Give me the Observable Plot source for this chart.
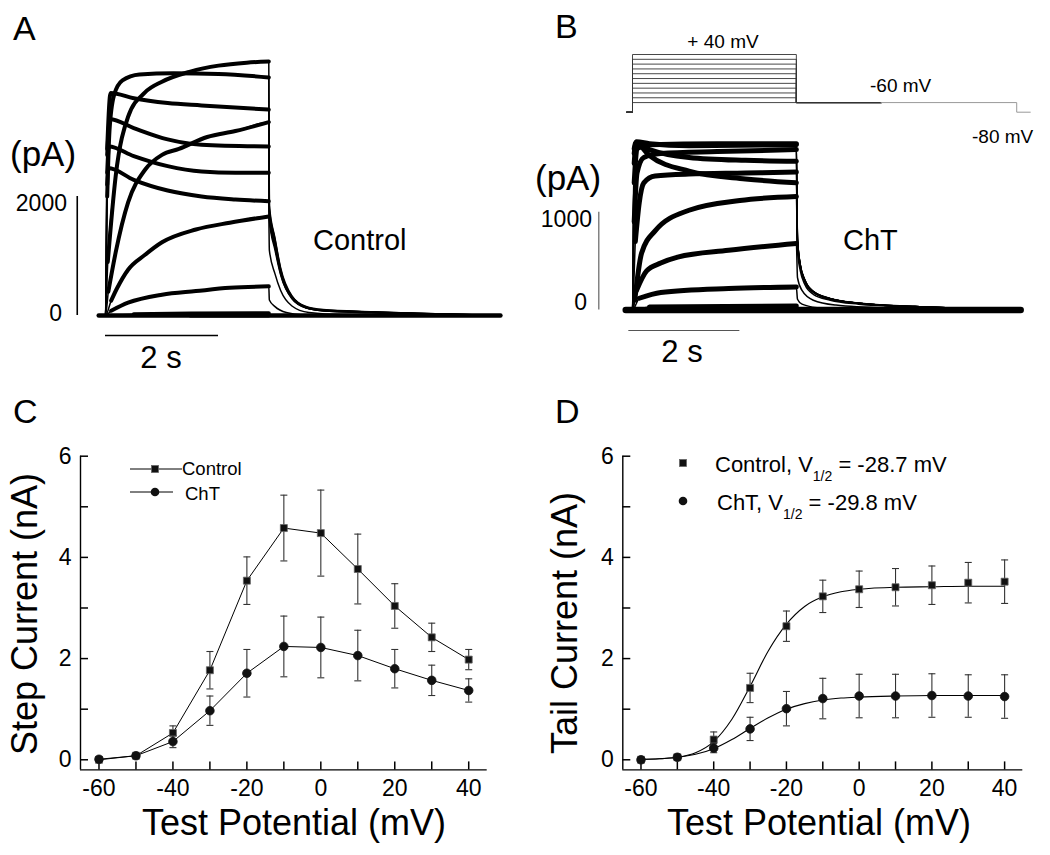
<!DOCTYPE html>
<html><head><meta charset="utf-8">
<script src="https://cdn.jsdelivr.net/npm/d3@7"></script>
<script src="https://cdn.jsdelivr.net/npm/@observablehq/plot@0.6"></script>
<style>
body{margin:0;background:#fff;}
#fig{position:relative;width:1050px;height:855px;overflow:hidden;background:#fff;}
.panel{position:absolute;}
#overlay{position:absolute;left:0;top:0;pointer-events:none;}
</style></head><body><div id="fig"></div>
<script>
const FONT = '"Liberation Sans", Arial, Helvetica, sans-serif';

// ---------- Panels C / D : I-V data (nA) ----------
const voltages = [-60, -50, -40, -30, -20, -10, 0, 10, 20, 30, 40];
const stepControl    = [0.00, 0.08, 0.53, 1.77, 3.54, 4.58, 4.48, 3.77, 3.04, 2.42, 1.98];
const stepControlSem = [0.00, 0.03, 0.14, 0.37, 0.47, 0.65, 0.85, 0.69, 0.44, 0.28, 0.20];
const stepChT        = [0.01, 0.08, 0.36, 0.97, 1.71, 2.24, 2.22, 2.06, 1.80, 1.57, 1.37];
const stepChTSem     = [0.00, 0.02, 0.12, 0.29, 0.47, 0.60, 0.60, 0.50, 0.38, 0.30, 0.23];
const tailControl    = [0.00, 0.05, 0.40, 1.42, 2.64, 3.23, 3.37, 3.41, 3.45, 3.50, 3.52];
const tailControlSem = [0.00, 0.02, 0.15, 0.29, 0.30, 0.32, 0.36, 0.37, 0.38, 0.40, 0.43];
const tailChT        = [0.00, 0.05, 0.23, 0.61, 1.01, 1.21, 1.26, 1.26, 1.27, 1.26, 1.25];
const tailChTSem     = [0.00, 0.02, 0.09, 0.23, 0.34, 0.40, 0.43, 0.43, 0.43, 0.42, 0.43];
// Boltzmann fit curves
const fitVoltages = [-60, -55, -50, -45, -40, -35, -30, -25, -20, -15, -10, -5, 0, 10, 20, 30, 40];
const fitControl  = [0.01, 0.02, 0.05, 0.14, 0.36, 0.80, 1.45, 2.15, 2.68, 3.03, 3.22, 3.32, 3.37, 3.41, 3.42, 3.43, 3.43];
const fitChT      = [0.01, 0.02, 0.05, 0.11, 0.22, 0.40, 0.62, 0.83, 1.00, 1.11, 1.18, 1.22, 1.24, 1.26, 1.27, 1.27, 1.27];
const ivXDomain = [-65, 45];
const ivYDomain = [-0.2, 6];
const xTicks = [-60, -50, -40, -30, -20, -10, 0, 10, 20, 30, 40];
const xTickLabels = [-60, -40, -20, 0, 20, 40];
const yTicks = [0, 1, 2, 3, 4, 5, 6];
const yTickLabels = [0, 2, 4, 6];

// ---------- Panel A : control current traces [time s, current pA] ----------
const stepEndA = 2.89;
const controlTraces = [
  {v: -60, pts: [[-0.12,0],[0,0],[1.5,0],[2.89,0],[2.9,0],[5,0],[6.99,0]]},
  {v: -50, pts: [[-0.12,0],[0,0],[0.5,20],[1.5,35],[2.89,40],[2.9,15],[3.2,0],[6.99,0]]},
  {v: -40, pts: [[-0.12,0],[0,0],[0.1,80],[0.4,215],[1.0,350],[1.6,410],[2.2,465],[2.89,490],[2.9,260],[3.0,150],[3.2,50],[3.5,10],[6.99,0]]},
  {v: -30, pts: [[-0.12,0],[0,0],[0.1,250],[0.2,450],[0.4,770],[0.7,1020],[1.0,1230],[1.6,1445],[2.2,1560],[2.89,1665],[2.9,1100],[3.0,700],[3.1,420],[3.3,160],[3.6,50],[4.2,15],[6.99,0]]},
  {v: -20, pts: [[-0.12,0],[0,0],[0.05,400],[0.18,1060],[0.4,1900],[0.7,2450],[1.0,2700],[1.3,2800],[1.8,3000],[2.3,3100],[2.89,3250],[2.9,1650],[3.0,1150],[3.1,720],[3.3,300],[3.55,130],[3.85,80],[4.7,45],[6.99,0]]},
  {v: -10, pts: [[-0.12,0],[0,0],[0.04,900],[0.18,2340],[0.4,3340],[0.7,3750],[1.0,3930],[1.5,4100],[2.0,4200],[2.5,4250],[2.89,4270],[2.9,1850],[3.0,1300],[3.1,800],[3.3,330],[3.55,150],[3.85,100],[4.7,65],[5.5,40],[6.99,0]]},
  {v: 0,   pts: [[-0.12,0],[0,0],[0.03,2000],[0.07,3100],[0.15,3700],[0.3,3950],[0.6,4050],[1.2,4070],[2.0,4060],[2.89,4000],[2.9,1800],[3.0,1280],[3.1,780],[3.3,320],[3.55,145],[3.85,95],[4.7,60],[5.5,35],[6.99,0]]},
  {v: 10,  pts: [[-0.12,0],[0,0],[0.03,2800],[0.09,3740],[0.5,3650],[1.1,3570],[1.7,3530],[2.89,3460],[2.9,1750],[3.0,1230],[3.1,750],[3.3,310],[3.55,140],[3.85,90],[4.7,60],[6.99,0]]},
  {v: 20,  pts: [[-0.12,0],[0,0],[0.03,2700],[0.08,3300],[0.5,3150],[1.1,2960],[1.7,2870],[2.89,2840],[2.9,1700],[3.0,1200],[3.1,730],[3.3,300],[3.55,135],[3.85,85],[4.7,55],[6.99,0]]},
  {v: 30,  pts: [[-0.12,0],[0,0],[0.03,2400],[0.06,2840],[0.5,2680],[1.1,2510],[1.7,2420],[2.3,2400],[2.89,2400],[2.9,1650],[3.0,1150],[3.1,700],[3.3,290],[3.55,130],[3.85,80],[4.7,50],[6.99,0]]},
  {v: 40,  pts: [[-0.12,0],[0,0],[0.03,2200],[0.05,2480],[0.5,2280],[1.1,2100],[1.7,2000],[2.3,1950],[2.89,1920],[2.9,1600],[3.0,1100],[3.1,680],[3.3,280],[3.55,125],[3.85,80],[4.7,50],[6.99,0]]}
];

// ---------- Panel B : ChT current traces [time s, current pA] ----------
const stepEndB = 2.9;
const chtTraces = [
  {v: -60, pts: [[-0.12,0],[0,0],[1.5,0],[2.9,0],[2.92,0],[5,0],[6.87,0]]},
  {v: -50, pts: [[-0.12,0],[0,0],[0.3,30],[2.9,40],[2.92,20],[3.2,0],[6.87,0]]},
  {v: -40, pts: [[-0.12,0],[0,0],[0.12,120],[0.5,180],[1.7,220],[2.9,235],[2.92,110],[3.0,60],[3.3,20],[3.8,0],[6.87,0]]},
  {v: -30, pts: [[-0.12,0],[0,0],[0.07,200],[0.25,400],[0.5,480],[0.8,540],[1.7,610],[2.9,680],[2.92,330],[3.0,200],[3.2,100],[3.6,50],[4.5,20],[6.87,0]]},
  {v: -20, pts: [[-0.12,0],[0,0],[0.04,100],[0.16,580],[0.4,810],[1.0,1020],[1.9,1120],[2.9,1160],[2.92,600],[2.97,400],[3.05,260],[3.2,160],[3.5,100],[4.0,60],[5.0,30],[6.87,0]]},
  {v: -10, pts: [[-0.12,0],[0,0],[0.05,700],[0.12,1100],[0.2,1300],[0.4,1370],[1.0,1390],[2.0,1400],[2.9,1410],[2.92,680],[2.97,440],[3.05,290],[3.2,180],[3.5,110],[4.0,70],[5.0,35],[6.87,0]]},
  {v: 0,   pts: [[-0.12,0],[0,0],[0.03,900],[0.08,1400],[0.2,1560],[0.5,1600],[1.5,1620],[2.9,1640],[2.92,700],[2.97,450],[3.05,300],[3.2,185],[3.5,115],[4.0,70],[5.0,35],[6.87,0]]},
  {v: 10,  pts: [[-0.12,0],[0,0],[0.03,1300],[0.08,1650],[0.3,1690],[1.5,1700],[2.9,1700],[2.92,720],[2.97,460],[3.05,305],[3.2,190],[3.5,115],[4.0,70],[5.0,35],[6.87,0]]},
  {v: 20,  pts: [[-0.12,0],[0,0],[0.03,1500],[0.07,1720],[0.3,1700],[1.0,1680],[2.9,1690],[2.92,730],[2.97,465],[3.05,310],[3.2,190],[3.5,118],[4.0,72],[5.0,36],[6.87,0]]},
  {v: 30,  pts: [[-0.12,0],[0,0],[0.03,1600],[0.06,1700],[0.3,1640],[1.0,1560],[2.0,1530],[2.9,1520],[2.92,720],[2.97,460],[3.05,305],[3.2,188],[3.5,116],[4.0,70],[5.0,35],[6.87,0]]},
  {v: 40,  pts: [[-0.12,0],[0,0],[0.03,1650],[0.06,1710],[0.3,1580],[1.0,1420],[2.0,1340],[2.9,1300],[2.92,710],[2.97,455],[3.05,300],[3.2,185],[3.5,115],[4.0,70],[5.0,35],[6.87,0]]}
];

// ---------- Panel B : voltage protocol (mV) ----------
const protocolLevels = [-60, -50, -40, -30, -20, -10, 0, 10, 20, 30, 40];
const protocolHolding = -80;
const protocolTail = -60;
const protocolTimes = {start: -0.1, stepOn: 0, stepOff: 2.9, grayFrom: 4.4, tailOff: 6.8, end: 7.04};

// ---------- scale bars ----------
const scaleBarsA = {v: {t: -0.5, i1: 0, i2: 2000}, h: {i: -336, t1: 0, t2: 2}};
const scaleBarsB = {v: {t: -0.596, i1: 0, i2: 1000}, h: {i: -209, t1: -0.065, t2: 1.9}};

const fig = document.getElementById("fig");
function place(svg, left, top, width) {
  const d = document.createElement("div");
  d.className = "panel";
  d.style.left = left + "px"; d.style.top = top + "px"; d.style.width = width + "px";
  d.append(svg); fig.append(d);
}
const baseStyle = {fontFamily: FONT, background: "transparent", color: "black", overflow: "visible"};

// ---------- trace panels ----------
function tracePanel({traces, stepEnd, width, height, marginLeft, marginRight, marginTop, marginBottom, xDomain, yDomain, thick, baseThick, bars, barColor, barWidth}) {
  const rows = traces.flatMap(tr => tr.pts.map(([t, i]) => ({v: tr.v, t, i})));
  const plateau = rows.filter(d => d.t >= 0.03 && d.t <= stepEnd);
  const base = rows.filter(d => d.v === traces[0].v);
  return Plot.plot({
    width, height, marginLeft, marginRight, marginTop, marginBottom,
    x: {domain: xDomain, axis: null}, y: {domain: yDomain, axis: null},
    style: baseStyle,
    marks: [
      Plot.line(rows, {x: "t", y: "i", z: "v", curve: "monotone-x", stroke: "black", strokeWidth: 1.5}),
      Plot.line(plateau, {x: "t", y: "i", z: "v", curve: "monotone-x", stroke: "black", strokeWidth: thick}),
      Plot.line(base, {x: "t", y: "i", curve: "monotone-x", stroke: "black", strokeWidth: baseThick}),
      Plot.ruleX([bars.v], {x: "t", y1: "i1", y2: "i2", stroke: barColor, strokeWidth: barWidth}),
      Plot.ruleY([bars.h], {y: "i", x1: "t1", x2: "t2", stroke: barColor, strokeWidth: barWidth})
    ]
  });
}

// Panel A: t0 at x=105, 56.5 px/s ; 0 pA at y=315, 0.0595 px/pA
place(tracePanel({
  traces: controlTraces, stepEnd: stepEndA, width: 520, height: 400,
  marginLeft: 98, marginRight: 20, marginTop: 40, marginBottom: 70,
  xDomain: [-0.1239, 6.991], yDomain: [-252, 4622],
  thick: 4, baseThick: 4.5, bars: scaleBarsA, barColor: "black", barWidth: 1.6
}), 0, 0, 520);

// Panel B traces
place(tracePanel({
  traces: chtTraces, stepEnd: stepEndB, width: 530, height: 400,
  marginLeft: 105, marginRight: 20, marginTop: 130, marginBottom: 70,
  xDomain: [-0.1239, 7.044], yDomain: [-209.6, 1835.4],
  thick: 5, baseThick: 6.5, bars: scaleBarsB, barColor: "#555", barWidth: 1.1
}), 520, 0, 530);

// Panel B protocol
{
  const P = protocolTimes;
  const dark = protocolLevels.flatMap(V => [
    {V, t: P.start, mv: protocolHolding}, {V, t: P.stepOn, mv: protocolHolding},
    {V, t: P.stepOn, mv: V}, {V, t: P.stepOff, mv: V},
    {V, t: P.stepOff, mv: protocolTail}, {V, t: P.grayFrom, mv: protocolTail}
  ]);
  const gray = [
    {t: P.grayFrom, mv: protocolTail}, {t: P.tailOff, mv: protocolTail},
    {t: P.tailOff, mv: protocolHolding}, {t: P.end, mv: protocolHolding}
  ];
  const svg = Plot.plot({
    width: 530, height: 130, marginLeft: 105, marginRight: 20, marginTop: 54, marginBottom: 18.3,
    x: {domain: [-0.1239, 7.044], axis: null}, y: {domain: [-80, 40], axis: null},
    style: baseStyle,
    marks: [
      Plot.line(dark, {x: "t", y: "mv", z: "V", stroke: "#333", strokeWidth: 0.9}),
      Plot.line(gray, {x: "t", y: "mv", stroke: "#999", strokeWidth: 1})
    ]
  });
  place(svg, 520, 0, 530);
}

// ---------- I-V panels ----------
const capSymbol = {draw(ctx, size) { const w = Math.sqrt(size / Math.PI); ctx.moveTo(-w, 0); ctx.lineTo(w, 0); }};
const IV_HEIGHT = 435, IV_TOP = 35.7, IV_BOTTOM = 85.6, TICK_LEN = 8;
function ivPanel({width, marginLeft, marginRight, series, fits}) {
  const frameW = width - marginLeft - marginRight;
  const frameH = IV_HEIGHT - IV_TOP - IV_BOTTOM;
  const marks = [
    Plot.ruleY([ivYDomain[0]], {stroke: "black", strokeWidth: 1.4}),
    Plot.ruleX([ivXDomain[0]], {stroke: "black", strokeWidth: 1.4}),
    // inward tick marks
    Plot.ruleX(xTicks, {x: d => d, insetTop: frameH - TICK_LEN, stroke: "black", strokeWidth: 1.5}),
    Plot.ruleY(yTicks, {y: d => d, insetRight: frameW - TICK_LEN, stroke: "black", strokeWidth: 1.5}),
    // tick labels
    Plot.axisX({ticks: xTicks, tickSize: 0, tickPadding: 9.5, label: null, fontSize: 23,
      tickFormat: d => xTickLabels.includes(d) ? String(d) : ""}),
    Plot.axisY({ticks: yTicks, tickSize: 0, tickPadding: 9, label: null, fontSize: 23,
      tickFormat: d => yTickLabels.includes(d) ? String(d) : ""})
  ];
  (fits || []).forEach(f => {
    const rows = fitVoltages.map((v, i) => ({v, i: f[i]}));
    marks.push(Plot.line(rows, {x: "v", y: "i", curve: "monotone-x", stroke: "black", strokeWidth: 1.1}));
  });
  series.forEach(s => {
    const rows = voltages.map((v, i) => ({v, m: s.mean[i], lo: s.mean[i] - s.sem[i], hi: s.mean[i] + s.sem[i], sem: s.sem[i]}));
    const eb = rows.filter(d => d.sem > 0.015);
    if (s.connect) marks.push(Plot.line(rows, {x: "v", y: "m", stroke: "black", strokeWidth: 1}));
    marks.push(Plot.ruleX(eb, {x: "v", y1: "lo", y2: "hi", stroke: "#333", strokeWidth: 1.1}));
    marks.push(Plot.dot(eb, {x: "v", y: "hi", symbol: capSymbol, r: 3.5, fill: "none", stroke: "#333", strokeWidth: 1.1}));
    marks.push(Plot.dot(eb, {x: "v", y: "lo", symbol: capSymbol, r: 3.5, fill: "none", stroke: "#333", strokeWidth: 1.1}));
    marks.push(Plot.dot(rows, {x: "v", y: "m", symbol: s.symbol, r: s.r, fill: "#111",
      stroke: s.symbol === "square" ? "#666" : "#111", strokeWidth: 0.8}));
  });
  return Plot.plot({
    width, height: IV_HEIGHT, marginLeft, marginRight, marginTop: IV_TOP, marginBottom: IV_BOTTOM,
    x: {domain: ivXDomain}, y: {domain: ivYDomain}, style: baseStyle, marks
  });
}

place(ivPanel({
  width: 520, marginLeft: 80, marginRight: 33.3,
  series: [
    {mean: stepControl, sem: stepControlSem, symbol: "square", r: 3.95, connect: true},
    {mean: stepChT, sem: stepChTSem, symbol: "circle", r: 4.3, connect: true}
  ]
}), 0, 420, 520);

place(ivPanel({
  width: 530, marginLeft: 102.3, marginRight: 27.7,
  fits: [fitControl, fitChT],
  series: [
    {mean: tailControl, sem: tailControlSem, symbol: "square", r: 3.95, connect: false},
    {mean: tailChT, sem: tailChTSem, symbol: "circle", r: 4.3, connect: false}
  ]
}), 520, 420, 530);

// ---------- text overlay ----------
const texts = [
  {s: "A", x: 13, y: 40, size: 34},
  {s: "B", x: 555, y: 38, size: 34},
  {s: "C", x: 13, y: 423, size: 34},
  {s: "D", x: 555, y: 423, size: 34},
  {s: "(pA)", x: 10, y: 165.5, size: 35},
  {s: "(pA)", x: 535, y: 190, size: 35},
  {s: "2000", x: 67, y: 211, size: 23, anchor: "end"},
  {s: "0", x: 62, y: 321, size: 23, anchor: "end"},
  {s: "1000", x: 592, y: 227, size: 23, anchor: "end"},
  {s: "0", x: 587, y: 310, size: 23, anchor: "end"},
  {s: "2 s", x: 161, y: 368, size: 31, anchor: "middle"},
  {s: "2 s", x: 682, y: 362, size: 31, anchor: "middle"},
  {s: "Control", x: 313, y: 250, size: 29},
  {s: "ChT", x: 843, y: 250, size: 29},
  {s: "+ 40 mV", x: 723, y: 48, size: 19, anchor: "middle"},
  {s: "-60 mV", x: 870, y: 92, size: 19},
  {s: "-80 mV", x: 972, y: 143, size: 19},
  {s: "Test Potential (mV)", x: 294, y: 835, size: 36, anchor: "middle"},
  {s: "Test Potential (mV)", x: 819, y: 835, size: 36, anchor: "middle"},
  {s: "Step Current (nA)", x: 37, y: 614, size: 36, anchor: "middle", rotate: true},
  {s: "Tail Current (nA)", x: 577, y: 623, size: 36, anchor: "middle", rotate: true},
  {s: "Control", x: 182, y: 475, size: 18.5},
  {s: "ChT", x: 185, y: 500, size: 18.5}
];
const ov = d3.select(fig).append("svg").attr("id", "overlay").attr("width", 1050).attr("height", 855)
  .attr("font-family", FONT);
for (const t of texts) {
  const el = ov.append("text").attr("x", t.x).attr("y", t.y).attr("font-size", t.size)
    .attr("text-anchor", t.anchor || "start").attr("fill", "black").text(t.s);
  if (t.rotate) el.attr("transform", `rotate(-90 ${t.x} ${t.y})`);
}
// panel C legend (line + marker + label)
ov.append("line").attr("x1", 130).attr("x2", 182).attr("y1", 469).attr("y2", 469).attr("stroke", "black").attr("stroke-width", 1);
ov.append("rect").attr("x", 151.5).attr("y", 465.5).attr("width", 7).attr("height", 7).attr("fill", "#111").attr("stroke", "#666").attr("stroke-width", 0.8);
ov.append("line").attr("x1", 130).attr("x2", 173).attr("y1", 492).attr("y2", 492).attr("stroke", "black").attr("stroke-width", 1);
ov.append("circle").attr("cx", 155).attr("cy", 492).attr("r", 4.3).attr("fill", "#111");
// panel D legend
ov.append("rect").attr("x", 679.5).attr("y", 459.5).attr("width", 7).attr("height", 7).attr("fill", "#111").attr("stroke", "#666").attr("stroke-width", 0.8);
ov.append("circle").attr("cx", 683).attr("cy", 501).attr("r", 4.3).attr("fill", "#111");
function subLabel(x, y, pre, post) {
  const t = ov.append("text").attr("x", x).attr("y", y).attr("font-size", 22).attr("fill", "black");
  t.append("tspan").text(pre);
  t.append("tspan").attr("font-size", 14).attr("dy", 9).text("1/2");
  t.append("tspan").attr("dy", -9).text(post);
}
subLabel(715, 472, "Control, V", " = -28.7 mV");
subLabel(717, 510, "ChT, V", " = -29.8 mV");
</script></body></html>
